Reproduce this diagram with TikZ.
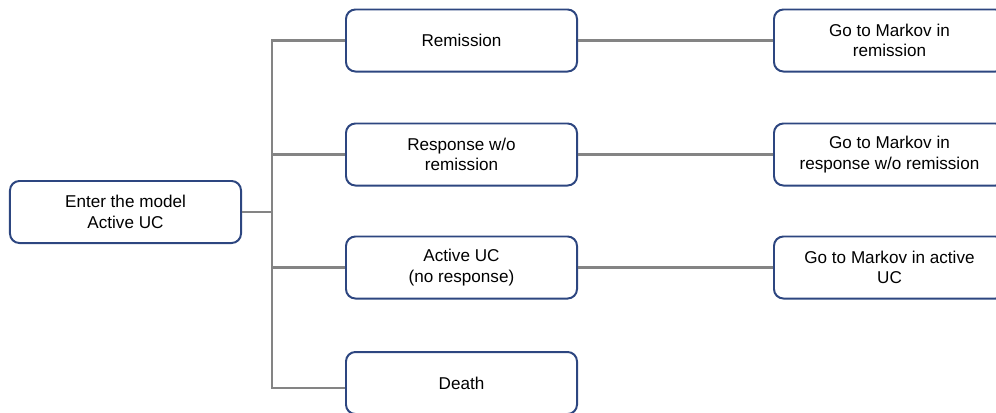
\documentclass[tikz,border=0pt]{standalone}
\usepackage{fontspec}
\setmainfont{Liberation Sans}
\definecolor{boxblue}{RGB}{45,70,128}
\definecolor{linegray}{RGB}{132,132,132}
\begin{document}
\begin{tikzpicture}[x=0.03cm,y=-0.03cm,
  box/.style={draw=boxblue,line width=1.7pt,rounded corners=8pt,fill=white,
    minimum width=6.93cm,minimum height=1.86cm,align=center,inner sep=2pt,
    font=\fontsize{14.6pt}{17.6pt}\selectfont},
  conn/.style={draw=linegray,line width=1.9pt}]
\useasboundingbox (0,0) rectangle (996,412);
\clip (0,0) rectangle (996,412);
\node[box] (enter) at (125.5,212) {Enter the model\\Active UC};
\node[box] (rem) at (461.5,40.5) {Remission};
\node[box] (resp) at (461.5,154.5) {Response w/o\\remission};
\node[box] (act) at (461.5,267.5) {Active UC\\(no response)};
\node[box] (death) at (461.5,383) {Death};
\node[box] (grem) at (889.5,40.5) {Go to Markov in\\remission};
\node[box] (gresp) at (889.5,154.5) {Go to Markov in\\response w/o remission};
\node[box] (gact) at (889.5,267.5) {Go to Markov in active\\UC};
\coordinate (trunk) at (272,212);
\draw[conn] (enter.east) -- (trunk);
\draw[conn] (rem.west) -| (trunk);
\draw[conn] (resp.west) -| (trunk);
\draw[conn] (act.west) -| (trunk);
\draw[conn] (death.west) ++(0,5) -| (trunk);
\draw[conn] (rem.east) -- (grem.west);
\draw[conn] (resp.east) -- (gresp.west);
\draw[conn] (act.east) -- (gact.west);
\end{tikzpicture}
\end{document}
